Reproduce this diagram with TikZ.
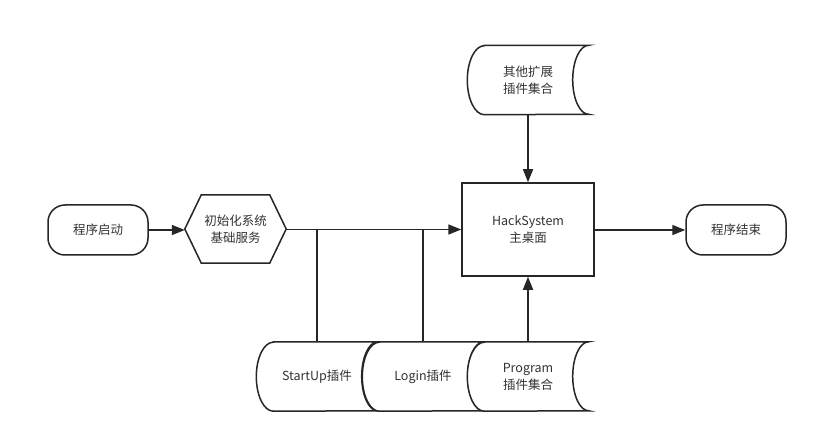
\documentclass[tikz,border=0pt]{standalone}
\usepackage{fontspec}
\setmainfont{Noto Sans CJK SC}
\usetikzlibrary{arrows.meta,backgrounds}
\tikzset{
  x=1pt, y=-1pt,
  line/.style={line width=1.5pt, draw=black!85},
  arr/.style={line, -{Triangle[length=13pt,width=10pt]}},
  txt/.style={align=center, font=\fontsize{12.5}{17}\selectfont, text=black!80, inner sep=0pt},
  term/.style={txt, line, rounded corners=17pt, minimum width=100pt, minimum height=50pt},
  boxnode/.style={txt, line, minimum width=132pt, minimum height=93pt},
  stlabel/.style={txt, minimum width=121pt, minimum height=69pt},
  hexlabel/.style={txt, minimum width=101pt, minimum height=68pt},
  storefill/.style={line, fill=white},
}
% stored-data drum: convex left side, concave right side
\newcommand\storeshape[1]{%
  \path[storefill] ([xshift=17pt]#1.north west) -- (#1.north east)
    arc[start angle=90, end angle=270, x radius=16pt, y radius=34.5pt]
    -- ([xshift=17pt]#1.south west)
    arc[start angle=270, end angle=90, x radius=17pt, y radius=34.5pt] -- cycle;}
\begin{document}
\begin{tikzpicture}
\useasboundingbox (0,0) rectangle (818,443);

\node[term] (start) at (98,230) {程序启动};
\node[hexlabel] (init) at (235.5,229) {初始化系统\\基础服务};
\node[boxnode] (main) at (528,229.5) {HackSystem\\主桌面};
\node[term] (end) at (736,230) {程序结束};
\node[stlabel] (ext) at (528,80) {其他扩展\\插件集合};
\node[stlabel] (su) at (317,376.5) {StartUp插件};
\node[stlabel] (login) at (423,376.5) {Login插件};
\node[stlabel] (prog) at (528,376.5) {Program\\插件集合};

\begin{pgfonlayer}{background}
  \fill[white] (0,0) rectangle (818,443);
  % hexagon around the init node
  \path[line, fill=white] (init.west) -- ([xshift=16.5pt]init.north west) -- ([xshift=-16.5pt]init.north east)
    -- (init.east) -- ([xshift=-16.5pt]init.south east) -- ([xshift=16.5pt]init.south west) -- cycle;
  \storeshape{ext}
  \storeshape{su}
  \storeshape{login}
  \storeshape{prog}
\end{pgfonlayer}

\coordinate (j1) at (su.north |- main.west);
\coordinate (j2) at (login.north |- main.west);

\draw[arr] (start.east) -- (start.east -| init.west);
\draw[arr] (init.east |- main.west) -- (main.west);
\draw[line] (login.north) -- (j2);
\draw[line] (su.north) -- (j1);
\draw[arr] (ext) -- (main);
\draw[arr] (prog) -- (main);
\draw[arr] (main.east |- end.west) -- (end);
\end{tikzpicture}
\end{document}
